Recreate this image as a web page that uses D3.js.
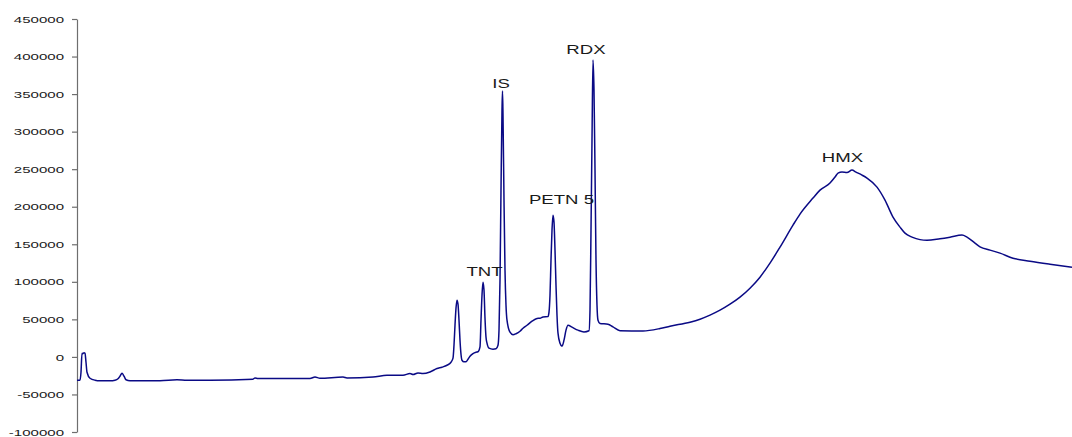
<!DOCTYPE html>
<html>
<head>
<meta charset="utf-8">
<script src="https://cdn.jsdelivr.net/npm/d3@7"></script>
<style>
  html, body { margin: 0; padding: 0; background: #fff; }
  svg { display: block; }
</style>
</head>
<body>
<svg id="chart" width="1072" height="437"></svg>
<script>
// Retention time (min) and detector response of the chromatogram trace
const retentionTime = [
  0.00, 0.06, 0.08, 0.10, 0.12, 0.14, 0.16, 0.18, 0.20, 0.26, 0.36, 0.46, 0.66, 0.76, 0.82, 0.86,
  0.90, 0.94, 0.98, 1.06, 1.66, 2.00, 2.20, 2.66, 3.52, 3.56, 3.62, 4.66, 4.76, 4.86, 5.32, 5.40,
  5.92, 6.20, 6.52, 6.66, 6.72, 6.82, 6.92, 7.06, 7.20, 7.30, 7.40, 7.48, 7.52, 7.54, 7.56, 7.58,
  7.60, 7.62, 7.64, 7.66, 7.68, 7.70, 7.74, 7.78, 7.82, 7.86, 7.92, 7.98, 8.02, 8.06, 8.08, 8.10,
  8.12, 8.14, 8.16, 8.18, 8.20, 8.24, 8.32, 8.38, 8.42, 8.44, 8.46, 8.48, 8.50, 8.51, 8.52, 8.54,
  8.56, 8.58, 8.60, 8.66, 8.72, 8.78, 8.86, 8.92, 9.00, 9.10, 9.20, 9.26, 9.32, 9.42, 9.44, 9.46,
  9.48, 9.50, 9.52, 9.54, 9.56, 9.58, 9.60, 9.62, 9.66, 9.70, 9.74, 9.78, 9.82, 9.90, 10.02, 10.14,
  10.24, 10.26, 10.28, 10.30, 10.32, 10.34, 10.36, 10.38, 10.40, 10.42, 10.46, 10.62, 10.72, 10.86, 11.32, 11.66,
  11.86, 12.26, 12.46, 12.66, 12.86, 13.06, 13.26, 13.46, 13.66, 13.86, 14.06, 14.32, 14.46, 14.72, 14.86, 15.06,
  15.16, 15.22, 15.30, 15.40, 15.50, 15.58, 15.70, 15.80, 16.00, 16.16, 16.32, 16.46, 16.56, 16.70, 16.86, 17.00,
  17.26, 17.46, 17.70, 17.80, 17.96, 18.06, 18.26, 18.46, 18.72, 19.06, 19.46, 19.90
];
const response = [
  -31000, -31000, -20400, 4900, 4300, 5600, 4900, -7100, -20400, -28400, -31000, -31700, -31700, -31000, -29100, -25700,
  -21700, -25700, -30400, -31700, -31700, -30400, -31000, -31000, -29700, -28000, -28800, -28800, -26800, -28400, -26800, -28000,
  -26800, -24400, -24400, -22100, -23500, -21300, -22100, -20000, -15500, -13700, -11100, -7100, -1700, 15600, 42200, 64900,
  75600, 70200, 48900, 22300, 3600, -4400, -6400, -6400, -3100, 900, 4500, 6300, 6900, 13300, 48900, 82200,
  99500, 88900, 51600, 26300, 18300, 11600, 10300, 10900, 15600, 35600, 102200, 222100, 328800, 354100, 322100, 208800,
  115500, 68900, 48900, 32900, 29600, 30900, 34200, 38200, 42200, 47600, 51200, 51600, 53300, 53800, 59600, 82200,
  128900, 168800, 188800, 179500, 142200, 95500, 55600, 31600, 18300, 14300, 22300, 35600, 42200, 39600, 35600, 33300,
  34900, 62200, 168800, 288800, 395400, 355400, 248800, 128900, 68900, 48900, 44500, 43600, 40000, 34900, 34600, 37800,
  40900, 46200, 50200, 55600, 62200, 70200, 79600, 91500, 106200, 124900, 146200, 175500, 190200, 211500, 222100, 231500,
  239500, 244800, 246100, 245500, 248800, 246100, 242100, 238100, 226100, 208800, 186200, 172800, 164800, 159500, 156200, 155500,
  157500, 159500, 162200, 159500, 151500, 146600, 142200, 138200, 131500, 127500, 123500, 119500
];

// Peak annotations
const peakNames = ["TNT", "IS", "PETN 5", "RDX", "HMX"];
const peakLabelTimes = [8.15, 8.48, 9.69, 10.18, 15.31];
const peakLabelValues = [107500, 358100, 203500, 403400, 259500];

// Y axis ticks
const yTicks = [-100000, -50000, 0, 50000, 100000, 150000, 200000, 250000, 300000, 350000, 400000, 450000];
const tickLabels = yTicks.map(String);

const svg = d3.select("#chart");

const x = d3.scaleLinear().domain([0, 19.9]).range([77, 1072]);
const y = d3.scaleLinear().domain([-100000, 450000]).range([432, 19]);

// Vertical axis
const axis = d3.axisLeft(y)
  .tickValues(yTicks)
  .tickFormat((d, i) => tickLabels[i])
  .tickSize(5)
  .tickSizeOuter(0);

const gAxis = svg.append("g")
  .attr("transform", "translate(77,0)")
  .call(axis);

gAxis.select(".domain").attr("stroke", "#6e6e6e").attr("stroke-width", 1.2);
gAxis.selectAll(".tick line").attr("stroke", "#6e6e6e").attr("stroke-width", 1.2);
const tickStretch = 1.75;
gAxis.selectAll(".tick text")
  .attr("font-family", "'Liberation Sans', Arial, sans-serif")
  .attr("font-size", 8.6)
  .attr("fill", "#1a1a1a")
  .attr("x", -13 / tickStretch)
  .attr("dy", "0.36em")
  .attr("transform", `scale(${tickStretch},1)`);

// Chromatogram trace
const pts = retentionTime.map((t, i) => [t, response[i]]);
const line = d3.line()
  .x(d => x(d[0]))
  .y(d => y(d[1]))
  .curve(d3.curveMonotoneX);

svg.append("path")
  .datum(pts)
  .attr("d", line)
  .attr("fill", "none")
  .attr("stroke", "#0a0a85")
  .attr("stroke-width", 1.5)
  .attr("stroke-linejoin", "round");

// Peak labels
const labelStretch = 1.55;
svg.append("g")
  .selectAll("text")
  .data(peakNames)
  .join("text")
  .attr("transform", (d, i) => `translate(${x(peakLabelTimes[i])},${y(peakLabelValues[i])}) scale(${labelStretch},1)`)
  .attr("text-anchor", "middle")
  .attr("font-family", "'Liberation Sans', Arial, sans-serif")
  .attr("font-size", 12)
  .attr("fill", "#1a1a1a")
  .text(d => d);
</script>
</body>
</html>
